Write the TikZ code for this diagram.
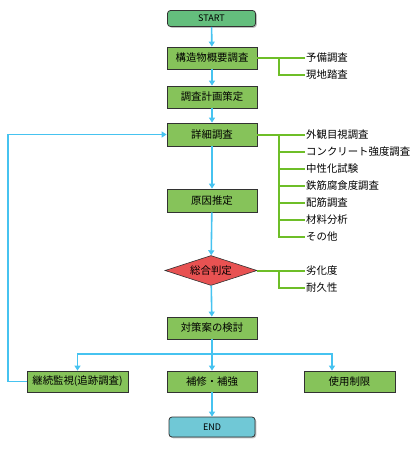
\documentclass[tikz,border=0pt]{standalone}
\usepackage{fontspec}
\setmainfont{Noto Sans CJK JP}
\usetikzlibrary{arrows.meta,shapes.geometric,shadows}
\definecolor{boxgreen}{RGB}{134,195,90}
\definecolor{startgreen}{RGB}{100,190,125}
\definecolor{endblue}{RGB}{112,200,214}
\definecolor{decred}{RGB}{232,82,82}
\definecolor{flowcyan}{RGB}{70,195,240}
\definecolor{branchgreen}{RGB}{110,190,40}
\definecolor{edgegray}{RGB}{50,50,50}
\tikzset{
  procbox/.style={draw=edgegray, line width=0.8pt, fill=boxgreen, rectangle,
    minimum width=90pt, minimum height=22pt, inner sep=0pt,
    font=\fontsize{10.4pt}{12pt}\selectfont,
    drop shadow={shadow xshift=1.3pt, shadow yshift=-1.3pt, fill=gray!60, opacity=0.8}},
  termbox/.style={draw=edgegray, line width=0.8pt, rectangle, rounded corners=3pt,
    minimum width=88pt, minimum height=16pt, inner sep=0pt,
    font=\fontsize{9pt}{10pt}\selectfont,
    drop shadow={shadow xshift=1.3pt, shadow yshift=-1.3pt, fill=gray!60, opacity=0.8}},
  decbox/.style={draw=edgegray, line width=0.6pt, fill=decred, diamond, aspect=3.07,
    minimum width=92pt, minimum height=30pt, inner sep=0pt,
    font=\fontsize{10.4pt}{12pt}\selectfont},
  lbl/.style={anchor=west, inner xsep=1pt, inner ysep=0pt,
    font=\fontsize{10.4pt}{12pt}\selectfont},
  flow/.style={draw=flowcyan, line width=1.6pt},
  arr/.style={flow, -{Triangle[width=6pt,length=5pt]}},
  branch/.style={draw=branchgreen, line width=2pt},
}
\begin{document}
\begin{tikzpicture}[x=1pt,y=-1pt]
\useasboundingbox (0,0) rectangle (420,450);
% main column
\node[termbox, fill=startgreen] (start) at (211.5,18.5) {START};
\node[procbox] (b1) at (212,58) {構造物概要調査};
\node[procbox] (b2) at (212,97) {調査計画策定};
\node[procbox, minimum height=23pt] (b3) at (212,134.5) {詳細調査};
\node[procbox, minimum height=23pt] (b4) at (212,200.5) {原因推定};
\node[decbox] (d1) at (211,270.5) {総合判定};
\node[procbox] (b5) at (212,328) {対策案の検討};
\node[procbox, minimum width=101pt, minimum height=21pt] (b6) at (77.5,381.5) {継続監視(追跡調査)};
\node[procbox, minimum height=21pt] (b7) at (212,381.5) {補修・補強};
\node[procbox, minimum width=91pt, minimum height=21pt] (b8) at (349.5,381.5) {使用制限};
\node[termbox, fill=endblue, minimum width=86pt, minimum height=20pt] (end) at (212,427) {END};

% labels
\node[lbl] (l1) at (305,58) {予備調査};
\node[lbl] (l2) at (305,75) {現地踏査};
\node[lbl] (m1) at (305,134.5) {外観目視調査};
\node[lbl] (m2) at (305,151.5) {コンクリート強度調査};
\node[lbl] (m3) at (305,168.5) {中性化試験};
\node[lbl] (m4) at (305,185.5) {鉄筋腐食度調査};
\node[lbl] (m5) at (305,202.5) {配筋調査};
\node[lbl] (m6) at (305,219.5) {材料分析};
\node[lbl] (m7) at (305,236.5) {その他};
\node[lbl] (k1) at (305,270.5) {劣化度};
\node[lbl] (k2) at (305,287.5) {耐久性};

% branch junctions
\coordinate (j1) at (279,58);
\coordinate (j2) at (279,134.5);
\coordinate (j3) at (279,270.5);

\draw[branch] (b1.east) -- (l1.west);
\draw[branch] (j1) |- (l2.west);
\draw[branch] (b3.east) -- (m1.west);
\draw[branch] (j2) |- (m7.west);
\foreach \m in {m2,m3,m4,m5,m6} \draw[branch] (j2 |- \m.west) -- (\m.west);
\draw[branch] (d1.east) -- (k1.west);
\draw[branch] (j3) |- (k2.west);

% main flow
\draw[arr] (start) -- (b1);
\draw[arr] (b1) -- (b2);
\draw[arr] (b2) -- (b3);
\draw[arr] (b3) -- (b4);
\draw[arr] (b4) -- (d1);
\draw[arr] (d1) -- (b5);
\coordinate (sp) at (212,354);
\draw[flow] (b5) -- (sp);
\draw[arr] (sp) -- (b7);
\draw[arr] (sp) -| (b6.north);
\draw[arr] (sp) -| ([xshift=-17.5pt]b8.north);
\draw[arr] (b7) -- (end);
% feedback
\coordinate (fb) at (8,0);
\draw[arr] (b6.west) -- (b6.west -| fb) |- (b3.west);
\end{tikzpicture}
\end{document}
